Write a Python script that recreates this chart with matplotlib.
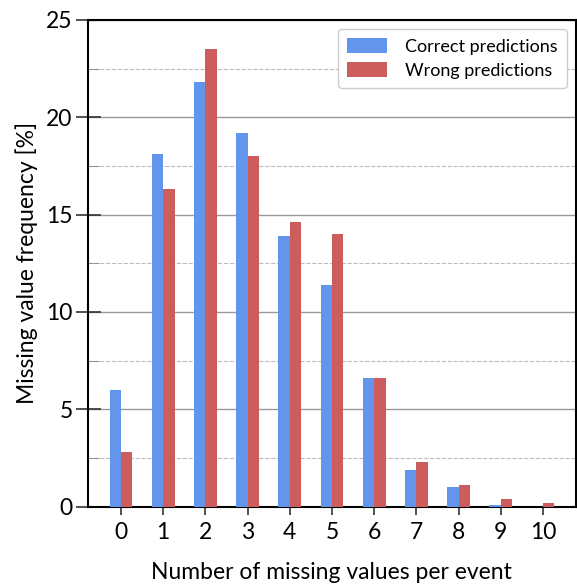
import numpy as np
import matplotlib
matplotlib.use("Agg")
import matplotlib.pyplot as plt
from matplotlib.ticker import MultipleLocator

plt.rcParams['font.family'] = ['Lato', 'DejaVu Sans']

n_missing = list(range(11))
correct = [6.0, 18.1, 21.8, 19.2, 13.9, 11.4, 6.6, 1.9, 1.0, 0.1, 0.0]
wrong = [2.8, 16.3, 23.5, 18.0, 14.6, 14.0, 6.6, 2.3, 1.1, 0.4, 0.2]

fig = plt.figure(figsize=(5.77, 5.85), dpi=100)
ax = fig.add_axes([0.1525, 0.134, 0.8455, 0.832])

x = np.array(n_missing)
w = 0.27
ax.bar(x - w / 2, correct, w, color='#6495ED', label='Correct predictions', zorder=3)
ax.bar(x + w / 2, wrong, w, color='#CD5C5C', label='Wrong predictions', zorder=3)

ax.set_xlim(-0.78, 10.78)
ax.set_ylim(0, 25)
ax.set_xticks(n_missing)
ax.yaxis.set_major_locator(MultipleLocator(5))
ax.yaxis.set_minor_locator(MultipleLocator(2.5))
ax.grid(axis='y', which='major', color='#999999', lw=1, zorder=0)
ax.grid(axis='y', which='minor', color='#bbbbbb', lw=0.8, ls='--', zorder=0)

ax.tick_params(axis='both', which='major', labelsize=16.5, width=1.2, color='#333333')
ax.tick_params(axis='y', which='major', direction='inout', length=18, pad=2)
ax.tick_params(axis='y', which='minor', direction='in', length=8, color='#888888')
ax.tick_params(axis='x', which='major', direction='out', length=6, pad=5)
for s in ax.spines.values():
    s.set_linewidth(1.5)

ax.set_xlabel('Number of missing values per event', fontsize=16.5, labelpad=14)
ax.set_ylabel('Missing value frequency [%]', fontsize=16.5, labelpad=6)

leg = ax.legend(loc='upper right', fontsize=13, handlelength=2.2, handleheight=0.9,
                borderpad=0.5, labelspacing=0.4, handletextpad=1.0, fancybox=True,
                framealpha=1, edgecolor='#cccccc')

fig.savefig('out.png', dpi=100)
